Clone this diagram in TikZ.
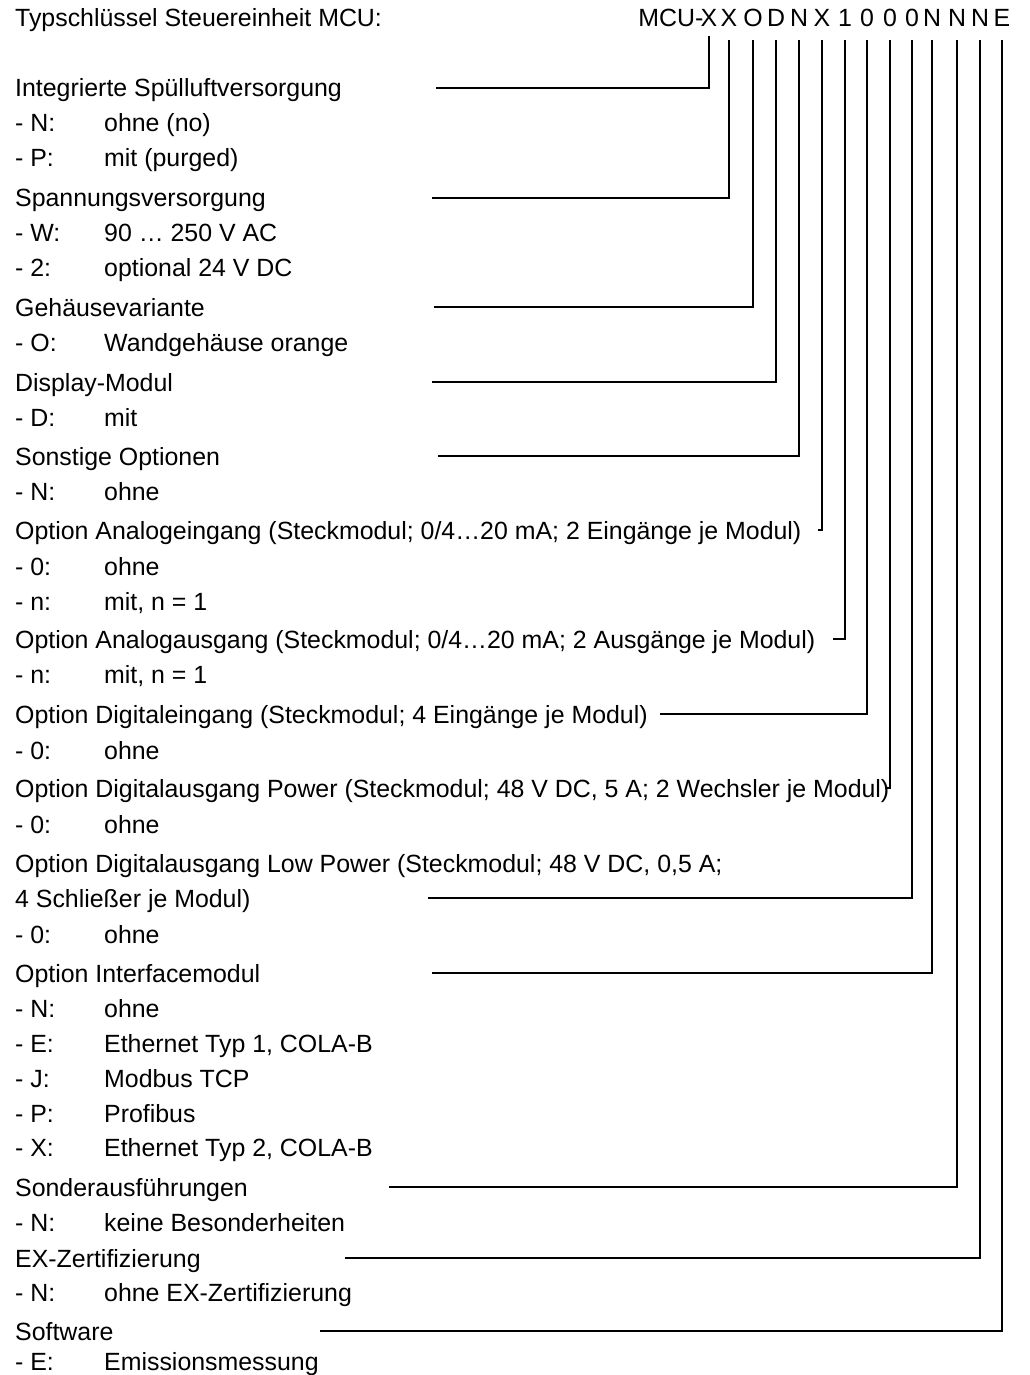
\documentclass[tikz,border=0pt]{standalone}
\usepackage{fontspec}
\setmainfont{Liberation Sans}
\newcommand{\mysize}{\fontsize{24.9}{30}\selectfont}
\begin{document}
\begin{tikzpicture}[x=1pt,y=-1pt,
  txt/.style={anchor=base west, inner sep=0pt, font=\mysize},
  codech/.style={anchor=base, inner sep=0pt, font=\mysize},
  conn/.style={line width=1.8pt, line join=miter}]
\useasboundingbox (0,0) rectangle (1029,1375);
% title and code
\node[txt] (title) at (15,27) {Typschlüssel Steuereinheit MCU:};
\node[codech] (c1) at (709,27) {X};
\node[codech] (c2) at (729,27) {X};
\node[codech] (c3) at (753,27) {O};
\node[codech] (c4) at (776,27) {D};
\node[codech] (c5) at (799,27) {N};
\node[codech] (c6) at (822,27) {X};
\node[codech] (c7) at (845,27) {1};
\node[codech] (c8) at (867,27) {0};
\node[codech] (c9) at (890,27) {0};
\node[codech] (c10) at (912,27) {0};
\node[codech] (c11) at (932,27) {N};
\node[codech] (c12) at (957,27) {N};
\node[codech] (c13) at (980,27) {N};
\node[codech] (c14) at (1002,27) {E};
\node[codech, anchor=base east] (mcu) at ([xshift=3pt]c1.base west) {MCU-};
% tops of the vertical lines
\path (c1.base) ++(0,9) coordinate (t1);
\foreach \i in {2,...,14} { \path (c\i.base) ++(0,13) coordinate (t\i); }
% left column
\node[txt] (h1) at (15,97) {Integrierte Spülluftversorgung};
\node[txt] (i1a) at (15,132) {- N:}; \node[txt] (v1a) at (104,132) {ohne (no)};
\node[txt] (i1b) at (15,167) {- P:}; \node[txt] (v1b) at (104,167) {mit (purged)};
\node[txt] (h2) at (15,207) {Spannungsversorgung};
\node[txt] (i2a) at (15,241) {- W:}; \node[txt] (v2a) at (104,241) {90 … 250 V AC};
\node[txt] (i2b) at (15,276) {- 2:}; \node[txt] (v2b) at (104,276) {optional 24 V DC};
\node[txt] (h3) at (15,316) {Gehäusevariante};
\node[txt] (i3a) at (15,351) {- O:}; \node[txt] (v3a) at (104,351) {Wandgehäuse orange};
\node[txt] (h4) at (15,391) {Display-Modul};
\node[txt] (i4a) at (15,426) {- D:}; \node[txt] (v4a) at (104,426) {mit};
\node[txt] (h5) at (15,465) {Sonstige Optionen};
\node[txt] (i5a) at (15,500) {- N:}; \node[txt] (v5a) at (104,500) {ohne};
\node[txt] (h6) at (15,539) {Option Analogeingang (Steckmodul; 0/4…20 mA; 2 Eingänge je Modul)};
\node[txt] (i6a) at (15,575) {- 0:}; \node[txt] (v6a) at (104,575) {ohne};
\node[txt] (i6b) at (15,610) {- n:}; \node[txt] (v6b) at (104,610) {mit, n = 1};
\node[txt] (h7) at (15,648) {Option Analogausgang (Steckmodul; 0/4…20 mA; 2 Ausgänge je Modul)};
\node[txt] (i7a) at (15,683) {- n:}; \node[txt] (v7a) at (104,683) {mit, n = 1};
\node[txt] (h8) at (15,723) {Option Digitaleingang (Steckmodul; 4 Eingänge je Modul)};
\node[txt] (i8a) at (15,759) {- 0:}; \node[txt] (v8a) at (104,759) {ohne};
\node[txt] (h9) at (15,797) {Option Digitalausgang Power (Steckmodul; 48 V DC, 5 A; 2 Wechsler je Modul)};
\node[txt] (i9a) at (15,833) {- 0:}; \node[txt] (v9a) at (104,833) {ohne};
\node[txt] (h10) at (15,872) {Option Digitalausgang Low Power (Steckmodul; 48 V DC, 0,5 A;};
\node[txt] (h10b) at (15,907) {4 Schließer je Modul)};
\node[txt] (i10a) at (15,943) {- 0:}; \node[txt] (v10a) at (104,943) {ohne};
\node[txt] (h11) at (15,982) {Option Interfacemodul};
\node[txt] (i11a) at (15,1017) {- N:}; \node[txt] (v11a) at (104,1017) {ohne};
\node[txt] (i11b) at (15,1052) {- E:}; \node[txt] (v11b) at (104,1052) {Ethernet Typ 1, COLA-B};
\node[txt] (i11c) at (15,1087) {- J:}; \node[txt] (v11c) at (104,1087) {Modbus TCP};
\node[txt] (i11d) at (15,1122) {- P:}; \node[txt] (v11d) at (104,1122) {Profibus};
\node[txt] (i11e) at (15,1156) {- X:}; \node[txt] (v11e) at (104,1156) {Ethernet Typ 2, COLA-B};
\node[txt] (h12) at (15,1196) {Sonderausführungen};
\node[txt] (i12a) at (15,1231) {- N:}; \node[txt] (v12a) at (104,1231) {keine Besonderheiten};
\node[txt] (h13) at (15,1267) {EX-Zertifizierung};
\node[txt] (i13a) at (15,1301) {- N:}; \node[txt] (v13a) at (104,1301) {ohne EX-Zertifizierung};
\node[txt] (h14) at (15,1340) {Software};
\node[txt] (i14a) at (15,1370) {- E:}; \node[txt] (v14a) at (104,1370) {Emissionsmessung};
% start points of the leader lines
\coordinate (s1) at (436,88);
\coordinate (s2) at (432,198);
\coordinate (s3) at (434,307);
\coordinate (s4) at (432,382);
\coordinate (s5) at (438,456);
\coordinate (s6) at (818,530);
\coordinate (s7) at (833,639);
\coordinate (s8) at (660,714);
\coordinate (s9) at (885,788);
\coordinate (s10) at (428,898);
\coordinate (s11) at (432,973);
\coordinate (s12) at (389,1187);
\coordinate (s13) at (345,1258);
\coordinate (s14) at (320,1331);
\foreach \i in {1,...,14} { \draw[conn] (s\i) -| (t\i); }
\end{tikzpicture}
\end{document}
